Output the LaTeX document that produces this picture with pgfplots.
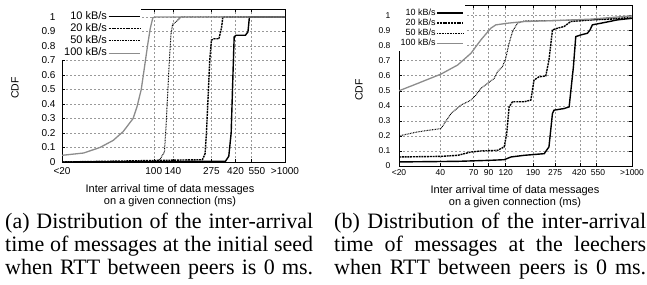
\documentclass[border=0pt]{standalone}
\usepackage{pgfplots}
\pgfplotsset{compat=1.18}
\usepackage{fontspec}
\setmainfont{Liberation Sans}
\newfontfamily\capfont{Liberation Serif}
\pgfplotsset{
 cdfstyle/.style={
  scale only axis, xmin=20, xmax=1000, ymin=0,
  xminorticks=false, yminorticks=false,
  ytick={0,0.1,0.2,0.3,0.4,0.5,0.6,0.7,0.8,0.9,1},
  grid=major, major grid style={dash pattern=on 2pt off 2pt, black!40, line width=0.5pt},
  axis line style={black, line width=0.8pt},
  tick style={black, line width=0.5pt}, major tick length=3pt, tick align=inside,
  /pgf/number format/assume math mode=true,
  yticklabel style={/pgf/number format/fixed},
  legend cell align=right, legend plot pos=right,
  legend style={draw=none, fill=white, at={(0,1)}, anchor=north west,
    inner xsep=1pt, inner ysep=1pt, column sep=0pt},
 },
 s10/.style={black, line width=1.4pt},
 s20/.style={black, line width=1.4pt, dash pattern=on 2pt off 0.8pt},
 s50/.style={black, line width=1pt, dash pattern=on 0.8pt off 0.8pt},
 s100/.style={black!45, line width=1.3pt},
}
\begin{document}
\begin{tikzpicture}
\path[use as bounding box] (0pt,0pt) rectangle (647pt,-284pt);
% ---------------- (a) initial seed
\begin{semilogxaxis}[cdfstyle, at={(62pt,-162pt)}, anchor=south west,
  width=223pt, height=153pt, ymax=1.055,
  xtick={20,100,140,275,420,550,1000},
  xticklabels={<20,100,140,275,420,\hspace*{12pt}550,>1000},
  ticklabel style={font=\fontsize{10}{11}\selectfont},
  xticklabel style={yshift=-1.5pt},
  yticklabel style={xshift=-3pt},
  legend style={font=\fontsize{11}{12}\selectfont, row sep=0.2pt,
    nodes={inner sep=1pt, text height=7.8pt, text depth=2.3pt}},
  legend image code/.code={\draw[#1] (4pt,0pt) -- (35pt,0pt);}]
\addplot[s10] coordinates {(20,0) (352,0.005) (373,0.04) (389,0.2) (396,0.43) (403,0.657) (410,0.863) (424,0.874) (499,0.874) (522,0.897) (535,0.995) (545,1) (1000,1)};
\addplot[s20] coordinates {(20,0) (235,0.016) (246,0.057) (252,0.2) (259,0.43) (267,0.70) (275,0.84) (288,0.85) (314,0.85) (329,0.93) (336,1) (1000,1)};
\addplot[s50] coordinates {(20,0) (105,0.002) (112,0.02) (117,0.05) (120.6,0.07) (124,0.245) (127.7,0.47) (131.5,0.70) (135.4,0.886) (139.3,0.95) (147.6,0.966) (161,1) (1000,1)};
\addplot[s100] coordinates {(20,0.046) (29.2,0.062) (38.9,0.10) (49.1,0.149) (58.5,0.21) (69.6,0.30) (74.5,0.38) (80.3,0.50) (85.1,0.657) (90.2,0.817) (94,0.92) (98.4,0.995) (104,1) (1000,1)};
\legend{10 kB/s,20 kB/s,50 kB/s,100 kB/s}
\end{semilogxaxis}
% ---------------- (b) leechers
\begin{semilogxaxis}[cdfstyle, at={(399pt,-166pt)}, anchor=south west,
  width=233pt, height=161pt, ymax=1.07,
  xtick={20,40,70,90,120,190,275,420,550,1000},
  xticklabels={<20,40,70,90,120,190,275,420\hspace*{2pt},\hspace*{3pt}550,>1000},
  ticklabel style={font=\fontsize{8.5}{10}\selectfont},
  yticklabel style={xshift=-5pt},
  legend style={font=\fontsize{9}{10}\selectfont, inner ysep=3pt, row sep=0.8pt,
    nodes={text height=6.5pt, text depth=1.9pt, inner sep=0.5pt}},
  legend image code/.code={\draw[#1] (11pt,0pt) -- (37pt,0pt);}]
\addplot[s10] coordinates {(20,0.027) (53.5,0.031) (93.5,0.038) (117,0.042) (131,0.06) (163.6,0.071) (229,0.082) (248,0.127) (263,0.349) (270,0.371) (320,0.382) (348,0.393) (374,0.66) (389,0.86) (423,0.871) (473,0.882) (494,0.904) (514,0.938) (625,0.953) (782,0.971) (1000,0.982)};
\addplot[s20] coordinates {(20,0.06) (40.5,0.064) (53.5,0.071) (66.9,0.093) (79,0.1) (104.5,0.104) (117,0.127) (122,0.216) (127,0.393) (134.5,0.427) (163.6,0.427) (183,0.438) (193,0.571) (210,0.593) (235,0.598) (248,0.704) (263,0.904) (286,0.916) (320,0.927) (357,0.96) (500,0.971) (1000,0.982)};
\addplot[s50] coordinates {(20,0.2) (27.4,0.227) (40.5,0.249) (47.9,0.349) (56.5,0.404) (66.9,0.438) (72.7,0.471) (79.1,0.516) (88.5,0.549) (98.9,0.582) (104.5,0.627) (113.6,0.66) (120,0.716) (127,0.816) (134.5,0.893) (146,0.949) (163.6,0.964) (500,0.971) (1000,0.99)};
\addplot[s100] coordinates {(20,0.5) (27.4,0.549) (40.5,0.611) (53.5,0.671) (66.9,0.749) (79.1,0.838) (93.5,0.916) (101.7,0.938) (123.6,0.949) (163.5,0.96) (286,0.967) (500,0.976) (1000,0.998)};
\legend{10 kB/s,20 kB/s,50 kB/s,100 kB/s}
\end{semilogxaxis}
% axis titles
\node[rotate=90, font=\fontsize{10.5}{12}\selectfont] at (15pt,-88pt) {CDF};
\node[rotate=90, font=\fontsize{10.5}{12}\selectfont] at (359pt,-90pt) {CDF};
\node[font=\fontsize{11}{12}\selectfont] at (170pt,-190pt) {Inter arrival time of data messages};
\node[font=\fontsize{11}{12}\selectfont] at (170pt,-202pt) {on a given connection (ms)};
\node[font=\fontsize{11}{12}\selectfont] at (515pt,-191pt) {Inter arrival time of data messages};
\node[font=\fontsize{11}{12}\selectfont] at (515pt,-203pt) {on a given connection (ms)};
% captions
\begin{scope}[every node/.style={inner sep=0pt, anchor=base west, font=\capfont\fontsize{22}{23}\selectfont}]
\node at (5pt,-228pt) {\makebox[308pt][s]{(a) Distribution of the inter-arrival}};
\node at (5pt,-251pt) {\makebox[308pt][s]{time of messages at the initial seed}};
\node at (5pt,-274pt) {\makebox[308pt][s]{when RTT between peers is 0 ms.}};
\node at (334pt,-228pt) {\makebox[312pt][s]{(b) Distribution of the inter-arrival}};
\node at (334pt,-251pt) {\makebox[312pt][s]{time of messages at the leechers}};
\node at (334pt,-274pt) {\makebox[312pt][s]{when RTT between peers is 0 ms.}};
\end{scope}
\end{tikzpicture}
\end{document}
